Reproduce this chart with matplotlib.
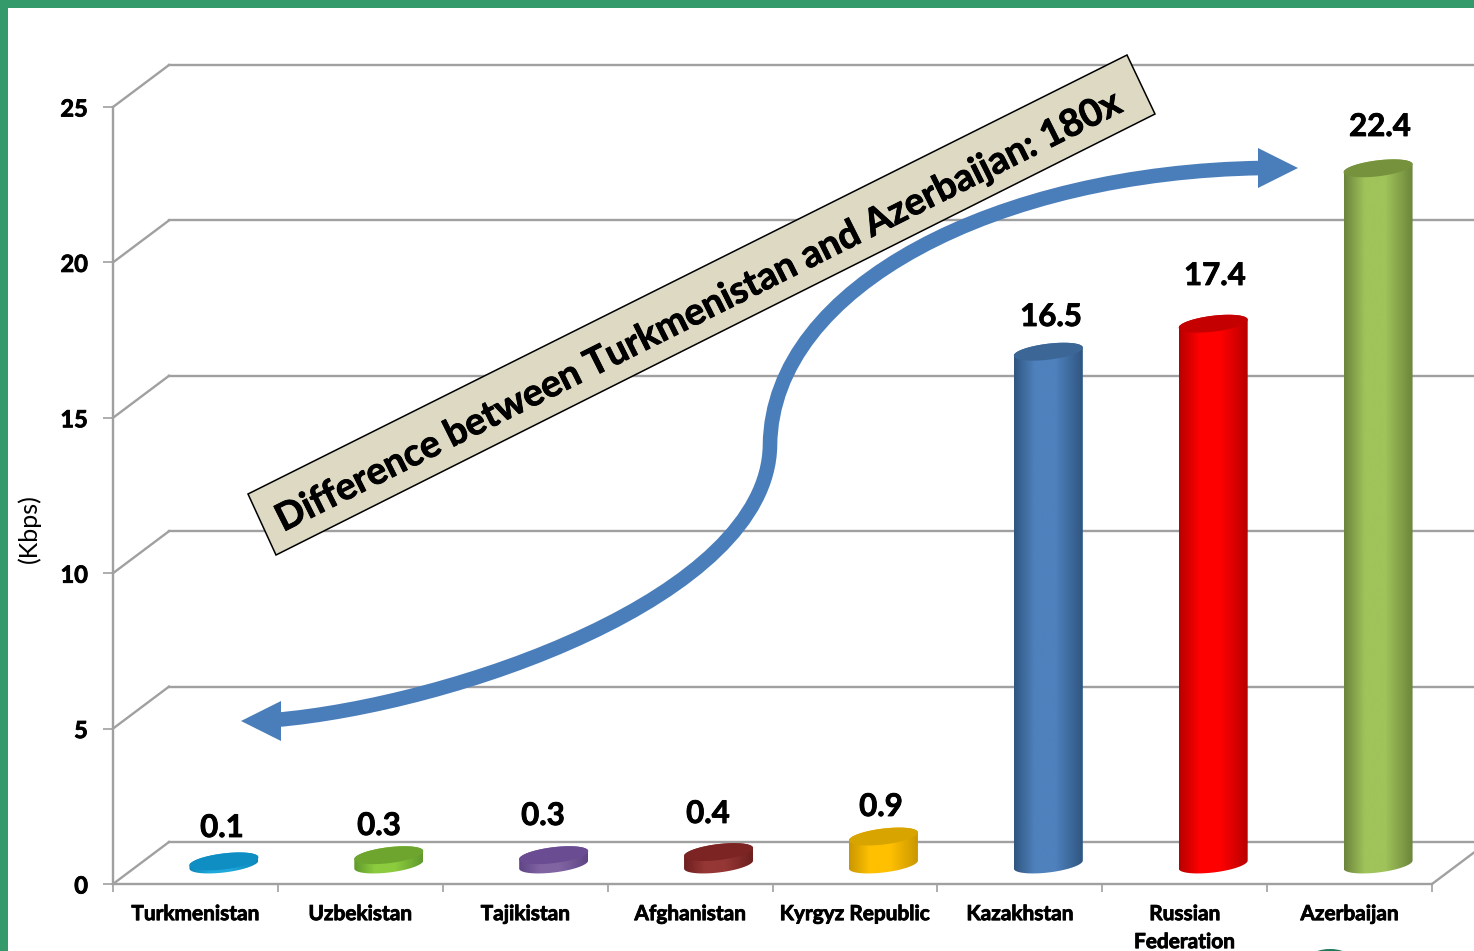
"""
Broadband speed per country, drawn as pseudo-3D cylinders on a perspective wall.
"""

import numpy as np
import matplotlib
matplotlib.use("Agg")
import matplotlib.pyplot as plt
import matplotlib.patheffects as pe
from matplotlib.colors import LinearSegmentedColormap
from matplotlib.patches import Ellipse, PathPatch, Polygon, Rectangle
from matplotlib.path import Path
from matplotlib.transforms import Affine2D

# ── Data ───────────────────────────────────────────────────────────────────────

COUNTRIES = ["Turkmenistan", "Uzbekistan", "Tajikistan", "Afghanistan",
             "Kyrgyz Republic", "Kazakhstan", "Russian\nFederation", "Azerbaijan"]
SPEEDS = [0.1, 0.3, 0.3, 0.4, 0.9, 16.5, 17.4, 22.4]
VALUE_TICKS = [0, 5, 10, 15, 20, 25]

# ── Style ──────────────────────────────────────────────────────────────────────

SIDE_EDGE = ["#0b86b8", "#5f9a2c", "#5f4585", "#6e1f1f", "#c99700", "#2f5681", "#b80000", "#6c853c"]
SIDE_MID = ["#1fa9dc", "#8ccb3e", "#8064a2", "#953735", "#ffc000", "#4f81bd", "#ff0000", "#a0c35a"]
TOP_FILL = ["#0f8ec4", "#6ea52f", "#6a4c93", "#7c2423", "#d8a400", "#3b6695", "#c40000", "#76923c"]
LABEL_PX = [(222, 828), (379, 826), (543, 816), (708, 814),
            (881, 807), (1051, 317), (1215, 276), (1380, 127)]

FRAME = "#359a6b"
GRID = "#a0a0a0"
ARROW = "#4a7ebb"
BANNER = "#ddd9c3"

W, H = 1474, 951
X0, X1, Y0, Y25 = 113, 1432, 884, 107
PX_X = (X1 - X0) / 8
PX_Y = (Y0 - Y25) / 25
DEPTH_X, DEPTH_Y = 56 / PX_X, 42 / PX_Y

plt.rcParams["font.family"] = ["Lato", "DejaVu Sans"]

# Calibri bold is heavier than Lato bold, a thin outline makes up the weight
THICK = [pe.withStroke(linewidth=0.6, foreground="black")]

fig = plt.figure(figsize=(W / 100, H / 100), dpi=100, facecolor="white")
ax = fig.add_axes([X0 / W, (H - Y0) / H, (X1 - X0) / W, (Y0 - Y25) / H])
ax.patch.set_visible(False)

# pixel coordinates of the picture, y going down
px = Affine2D().scale(1 / W, -1 / H).translate(0, 1) + fig.transFigure

# ── Walls ──────────────────────────────────────────────────────────────────────

for v in VALUE_TICKS:
    ax.plot([0, DEPTH_X], [v, v + DEPTH_Y], color=GRID, lw=1.7, clip_on=False, zorder=1)
    ax.plot([DEPTH_X, 8 + DEPTH_X], [v + DEPTH_Y] * 2, color=GRID, lw=1.7, clip_on=False, zorder=1)
ax.plot([8, 8 + DEPTH_X], [0, DEPTH_Y], color=GRID, lw=1.7, clip_on=False, zorder=1)

for side in ("top", "right"):
    ax.spines[side].set_visible(False)
for side in ("left", "bottom"):
    ax.spines[side].set_color(GRID)
    ax.spines[side].set_linewidth(1.7)

# ── Cylinders ──────────────────────────────────────────────────────────────────

HALF_W = 34.5 / PX_X
HALF_H = 8 / PX_Y
SHEAR = 4 / PX_Y
BASE = 19.5 / PX_Y
t = np.linspace(0, 2 * np.pi, 121)


def rim(cx, cy):
    return cx + HALF_W * np.cos(t), cy + HALF_H * np.sin(t) + SHEAR * np.cos(t)


for i, value in enumerate(SPEEDS):
    cx = i + 0.5 + (DEPTH_X + 1 / PX_X) / 2
    x_top, y_top = rim(cx, BASE + value)
    x_low, y_low = rim(cx, BASE)
    lower = t >= np.pi
    upper = t <= np.pi
    outline = np.column_stack([np.r_[x_low[lower], x_top[upper]],
                               np.r_[y_low[lower], y_top[upper]]])
    body = Polygon(outline, closed=True, transform=ax.transData, fc="none", ec="none")
    ax.add_patch(body)
    cmap = LinearSegmentedColormap.from_list(
        "side", [(0, SIDE_EDGE[i]), (0.3, SIDE_MID[i]), (0.6, SIDE_MID[i]), (1, SIDE_EDGE[i])])
    img = ax.imshow(np.linspace(0, 1, 128)[None, :], cmap=cmap, aspect="auto", zorder=3,
                    extent=[cx - HALF_W, cx + HALF_W, BASE - 1, BASE + value + 1],
                    clip_on=True)
    img.set_clip_path(body)
    ax.fill(x_top, y_top, color=TOP_FILL[i], lw=0, zorder=4, clip_on=False)
    ax.text(*LABEL_PX[i], f"{value}", transform=px, ha="center", va="center",
            fontsize=22.5, fontweight="bold", color="black", zorder=6, path_effects=THICK)

ax.set_xlim(0, 8)
ax.set_ylim(0, 25)

# ── Ticks ──────────────────────────────────────────────────────────────────────

ax.set_yticks(VALUE_TICKS)
ax.set_xticks(range(9))
ax.set_xticklabels([])
ax.set_xticks(np.arange(8) + 0.5, minor=True)
ax.set_xticklabels(COUNTRIES, minor=True, fontsize=15, fontweight="bold", linespacing=1.5,
                   va="top", path_effects=THICK)
ax.tick_params(axis="x", which="minor", length=0, pad=14.5)
ax.tick_params(axis="x", which="major", length=6, width=1.2, color=GRID)
ax.tick_params(axis="y", length=7, width=1.2, color=GRID, pad=11, labelsize=17)
for lab in ax.get_yticklabels():
    lab.set_fontweight("bold")
    lab.set_path_effects(THICK)

fig.text(29, 529, "(Kbps)", transform=px, rotation=90, ha="center", va="center", fontsize=18)

# ── Callout ────────────────────────────────────────────────────────────────────

banner = Polygon([(248, 494), (1127, 55), (1155, 114), (276, 555)], closed=True,
                 transform=px, fc=BANNER, ec="black", lw=1.1, zorder=5)
fig.add_artist(banner)
fig.text(698, 312, "Difference between Turkmenistan and Azerbaijan: 180x", transform=px,
         rotation=26.6, rotation_mode="anchor", ha="center", va="center",
         fontsize=27.2, fontweight="bold", zorder=6, path_effects=THICK)

shaft = Path([(275, 720), (450, 705), (768, 598), (770, 445),
              (772, 285), (1000, 172), (1262, 168)],
             [Path.MOVETO, Path.CURVE4, Path.CURVE4, Path.CURVE4,
              Path.CURVE4, Path.CURVE4, Path.CURVE4])
fig.add_artist(PathPatch(shaft, transform=px, fc="none", ec=ARROW, lw=10.5, capstyle="butt", zorder=5))
fig.add_artist(Polygon([(241, 721), (281, 701), (281, 741)], closed=True, transform=px,
                       fc=ARROW, ec="none", zorder=5))
fig.add_artist(Polygon([(1298, 168), (1258, 148), (1258, 188)], closed=True, transform=px,
                       fc=ARROW, ec="none", zorder=5))

# ── Slide frame ────────────────────────────────────────────────────────────────

fig.add_artist(Rectangle((0, 0), 8, H, transform=px, fc=FRAME, ec="none", zorder=7))
fig.add_artist(Rectangle((0, 0), W, 8, transform=px, fc=FRAME, ec="none", zorder=7))
fig.add_artist(Ellipse((1330, 958), 40, 18, transform=px, fc="#1f7a5c", ec="none", zorder=7))

fig.savefig("out.png", dpi=100)
